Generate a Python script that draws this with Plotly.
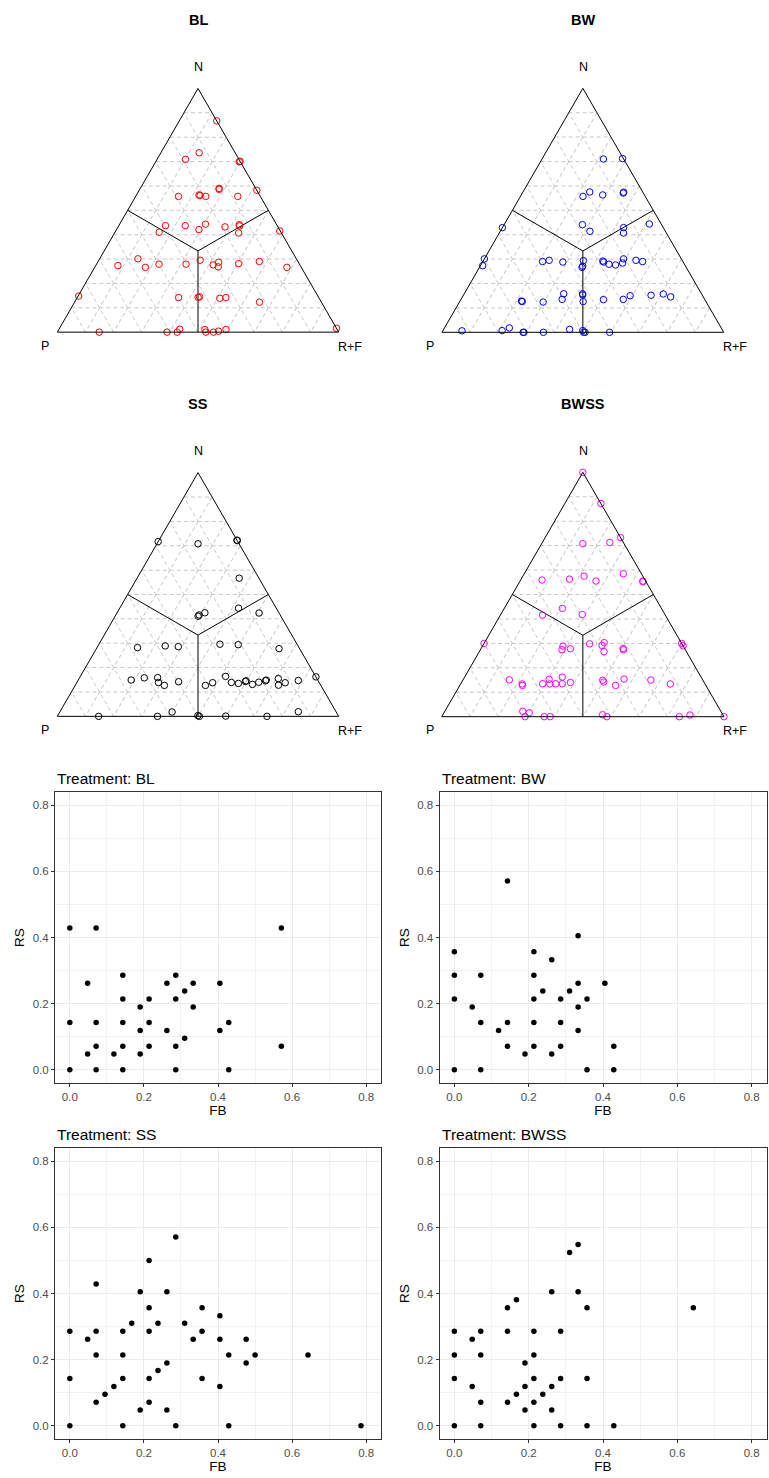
import plotly.graph_objects as go

W, H = 769, 1478

# ---------------- Ternary data (N = top, R+F = bottom-right; P = 1 - N - R+F) -------------
BL_N = [.867, .736, .709, .699, .701, .590, .586, .582, .557, .563, .561, .557, .557,
        .437, .437, .443, .421, .410, .432, .441, .436, .407, .415,
        .301, .273, .266, .279, .279, .295, .276, .287, .268, .281, .290, .266,
        .148, .142, .143, .145, .139, .142, .123,
        .000, .000, .000, .012, .011, .000, .000, .004, .011, .016]
BL_RF = [.133, .136, .101, .297, .299, .280, .282, .418, .152, .222, .227, .249, .363,
         .166, .236, .305, .293, .157, .380, .426, .430, .441, .583,
         .136, .079, .180, .222, .318, .360, .416, .430, .438, .504, .573, .683,
         .002, .360, .429, .433, .508, .528, .657,
         .149, .390, .426, .429, .519, .528, .555, .571, .594, .984]

BW_N = [.710, .712, .575, .557, .563, .574, .571, .441, .414, .429, .407, .444, .429,
        .301, .273, .290, .295, .288, .294, .266, .271, .292, .288, .279, .276, .284, .301, .295, .290,
        .128, .126, .124, .158, .135, .158, .153, .126, .134, .135, .150, .152, .157, .145,
        .006, .007, .018, .000, .000, .000, .012, .007, .000, .000, .000]
BW_RF = [.218, .285, .237, .222, .289, .358, .358, .278, .318, .430, .441, .514, .000,
         .000, .008, .212, .233, .285, .355, .364, .364, .425, .430, .453, .478, .499, .494, .541, .567,
         .218, .222, .297, .353, .359, .420, .423, .438, .506, .576, .593, .666, .707, .739,
         .068, .210, .230, .288, .291, .360, .447, .496, .508, .503, .595]

SS_N = [.717, .708, .723, .721, .567, .444, .424, .411, .416, .425,
        .282, .289, .286, .296, .294, .278,
        .149, .158, .159, .139, .127, .142, .127, .138, .164, .139, .135, .143, .146, .131, .140,
        .146, .149, .155, .128, .138, .147, .162,
        .000, .000, .018, .003, .000, .001, .000, .019]
SS_RF = [.000, .146, .277, .279, .363, .422, .505, .295, .296, .312,
         .144, .239, .287, .430, .496, .649,
         .188, .230, .277, .290, .317, .360, .463, .483, .516, .549, .576, .597, .598, .628, .646,
         .667, .668, .708, .722, .741, .783, .838,
         .147, .356, .399, .498, .505, .598, .745, .847]

BWSS_N = [1.000, .872, .733, .708, .713, .559, .563, .575, .555, .585, .555, .552, .443, .416, .418,
          .300, .289, .274, .278, .298, .292, .303, .266, .279, .274, .300, .290,
          .151, .134, .128, .135, .153, .134, .135, .135, .162, .140, .149, .142, .128, .154, .150, .134,
          .022, .016, .000, .000, .000, .008, .000, .000, .007, .000]
BWSS_RF = [.000, .128, .267, .146, .239, .076, .171, .217, .269, .351, .435, .437, .206, .149, .289,
           .000, .285, .289, .317, .375, .422, .424, .442, .503, .507, .700, .710,
           .164, .218, .222, .290, .304, .316, .336, .360, .346, .386, .496, .503, .552, .569, .666, .743,
           .276, .302, .295, .363, .384, .566, .585, .842, .876, 1.000]

# Region dividers: centroid to the edge midpoints
DIV_A = [0.5, 1 / 3, 0.5, None, 1 / 3, 0.0]
DIV_B = [0.5, 1 / 3, 0.0, None, 1 / 3, 0.5]
DIV_C = [0.0, 1 / 3, 0.5, None, 1 / 3, 0.5]

# ---------------- Scatter data (FB vs RS) ----------------
FB_BL = [0, .071, .571, .143, .286, .048, .262, .333, .405, .310, .143, .214, .286, .190, .333,
         0, .071, .143, .214, .429, .190, .262, .405, .310, .071, .143, .214, .286, .571,
         .048, .119, .190, 0, .071, .143, .286, .429]
RS_BL = [.429, .429, .429, .286, .286, .262, .262, .262, .262, .238, .214, .214, .214, .190, .190,
         .143, .143, .143, .143, .143, .119, .119, .119, .095, .071, .071, .071, .071, .071,
         .048, .048, .048, 0, 0, 0, 0, 0]

FB_BW = [.143, .333, 0, .214, .262, 0, .071, .214, .333, .405, .238, .310, 0, .214, .286, .357,
         .048, .333, .071, .143, .214, .286, .119, .333, .143, .214, .286, .429, .190, .262,
         0, .071, .357, .429]
RS_BW = [.571, .405, .357, .357, .333, .286, .286, .286, .262, .262, .238, .238, .214, .214, .214, .214,
         .190, .190, .143, .143, .143, .143, .119, .119, .071, .071, .071, .071, .048, .048,
         0, 0, 0, 0]

FB_SS = [.286, .214, .071, .190, .262, .214, .357, .405, .167, .238, .310, 0, .071, .143, .214, .357,
         .048, .333, .405, .476, .071, .143, .429, .5, .643, .262, .476, .238, 0, .143, .214, .357,
         .119, .405, .095, .071, .214, .190, .262, 0, .143, .286, .429, .786]
RS_SS = [.571, .5, .429, .405, .405, .357, .357, .333, .310, .310, .310, .286, .286, .286, .286, .286,
         .262, .262, .262, .262, .214, .214, .214, .214, .214, .190, .190, .167, .143, .143, .143, .143,
         .119, .119, .095, .071, .071, .048, .048, 0, 0, 0, 0, 0]

FB_BWSS = [.333, .310, .262, .333, .167, .143, .357, .643, 0, .071, .143, .214, .286, .048,
           0, .071, .214, .190, 0, .214, .286, .357, .048, .190, .262, .167, .238, .071, .143, .214,
           .190, .262, 0, .071, .214, .286, .357, .429]
RS_BWSS = [.548, .524, .405, .405, .381, .357, .357, .357, .286, .286, .286, .286, .286, .262,
           .214, .214, .214, .190, .143, .143, .143, .143, .119, .119, .119, .095, .095, .071, .071, .071,
           .048, .048, 0, 0, 0, 0, 0, 0]

TICKS = [0.0, 0.2, 0.4, 0.6, 0.8]
TICK_TEXT = ["0.0", "0.2", "0.4", "0.6", "0.8"]

FONT = "Liberation Sans, Arial, Helvetica, sans-serif"


def fx(x):
    return x / W


def fy(y):
    return 1 - y / H


fig = go.Figure()

ternaries = [
    ("BL", "ternary", BL_N, BL_RF, "#FF0000"),
    ("BW", "ternary2", BW_N, BW_RF, "#0000FF"),
    ("SS", "ternary3", SS_N, SS_RF, "#000000"),
    ("BWSS", "ternary4", BWSS_N, BWSS_RF, "#FF00FF"),
]
for name, sub, n, rf, col in ternaries:
    p = [abs(round(1 - a - c, 3)) for a, c in zip(n, rf)]
    fig.add_trace(go.Scatterternary(a=DIV_A, b=DIV_B, c=DIV_C, mode="lines", subplot=sub,
                                    line=dict(color="black", width=1), hoverinfo="skip",
                                    showlegend=False))
    fig.add_trace(go.Scatterternary(a=n, b=p, c=rf, mode="markers", subplot=sub, cliponaxis=False,
                                    name=name,
                                    marker=dict(symbol="circle-open", size=6.5, color=col,
                                                line=dict(width=1, color=col)),
                                    showlegend=False))

scatters = [
    ("BL", FB_BL, RS_BL, "x", "y"),
    ("BW", FB_BW, RS_BW, "x2", "y2"),
    ("SS", FB_SS, RS_SS, "x3", "y3"),
    ("BWSS", FB_BWSS, RS_BWSS, "x4", "y4"),
]
for name, fb, rs, xa, ya in scatters:
    fig.add_trace(go.Scatter(x=fb, y=rs, mode="markers", xaxis=xa, yaxis=ya, name=name,
                             marker=dict(color="black", size=5.5), showlegend=False))

# ---------------- Layout ----------------
tern_axis = dict(title=dict(text=""), showticklabels=False, ticks="", linecolor="black", linewidth=1,
                 showline=True, showgrid=True, gridcolor="#C8C8C8", griddash="4px,3px", gridwidth=0.7,
                 tickmode="linear", tick0=0, dtick=0.1)

tern_boxes = {  # pixel boxes of the triangles: (left, right, top, bottom)
    "ternary": (57.3, 338.7, 88.3, 332.3),
    "ternary2": (441.7, 724.0, 88.3, 332.3),
    "ternary3": (57.3, 338.7, 472.3, 716.7),
    "ternary4": (441.7, 724.0, 472.3, 716.7),
}
layout = dict(width=W, height=H, margin=dict(l=0, r=0, t=0, b=0), paper_bgcolor="white",
              plot_bgcolor="white", showlegend=False, font=dict(family=FONT, color="black"))
for key, (l, r, t, b) in tern_boxes.items():
    layout[key] = dict(domain=dict(x=[fx(l), fx(r)], y=[fy(b), fy(t)]), sum=1, bgcolor="white",
                       aaxis=tern_axis, baxis=tern_axis, caxis=tern_axis)

panel_boxes = {  # (left, right, top, bottom) in px
    "1": (55, 381, 792, 1083),
    "2": (439.5, 766.5, 792, 1083),
    "3": (55, 381, 1148, 1439),
    "4": (439.5, 766.5, 1148, 1439),
}
for k, (l, r, t, b) in panel_boxes.items():
    xk = "xaxis" if k == "1" else "xaxis" + k
    yk = "yaxis" if k == "1" else "yaxis" + k
    xid = "x" if k == "1" else "x" + k
    yid = "y" if k == "1" else "y" + k
    common = dict(range=[-0.04, 0.84], tickvals=TICKS, ticktext=TICK_TEXT, showline=True, mirror=True,
                  linecolor="#333333", linewidth=1, ticks="outside", ticklen=3, tickcolor="#333333",
                  tickfont=dict(size=11.5, color="#4D4D4D", family=FONT), showgrid=True,
                  gridcolor="#EBEBEB", gridwidth=1, zeroline=False, fixedrange=True,
                  minor=dict(tickvals=[0.1, 0.3, 0.5, 0.7], showgrid=True, gridcolor="#F2F2F2",
                             gridwidth=0.6, ticks=""))
    layout[xk] = dict(common, domain=[fx(l), fx(r)], anchor=yid,
                      title=dict(text="FB", font=dict(size=13.5, color="black"), standoff=2))
    layout[yk] = dict(common, domain=[fy(b), fy(t)], anchor=xid,
                      title=dict(text="RS", font=dict(size=13.5, color="black"), standoff=4))

annotations = []
for (title, cx, ty) in [("BL", 198, 20), ("BW", 583, 20), ("SS", 198, 404), ("BWSS", 583, 404)]:
    annotations.append(dict(text="<b>%s</b>" % title, x=fx(cx), y=fy(ty), xref="paper", yref="paper",
                            showarrow=False, xanchor="center", yanchor="middle",
                            font=dict(size=14.5, color="black", family=FONT)))
for (cx, base_x, top_y, base_y) in [(198, 0, 67, 346), (583, 385, 67, 346),
                                     (198, 0, 451, 730), (583, 385, 451, 730)]:
    annotations.append(dict(text="N", x=fx(cx), y=fy(top_y), xref="paper", yref="paper", showarrow=False,
                            xanchor="center", yanchor="middle", font=dict(size=12.5, color="black")))
    annotations.append(dict(text="P", x=fx(base_x + 45), y=fy(base_y), xref="paper", yref="paper",
                            showarrow=False, xanchor="center", yanchor="middle",
                            font=dict(size=12.5, color="black")))
    annotations.append(dict(text="R+F", x=fx(base_x + 350), y=fy(base_y + 1), xref="paper", yref="paper",
                            showarrow=False, xanchor="center", yanchor="middle",
                            font=dict(size=12.5, color="black")))
for (title, lx, ty) in [("Treatment: BL", 55, 778), ("Treatment: BW", 439.5, 778),
                        ("Treatment: SS", 55, 1134), ("Treatment: BWSS", 439.5, 1134)]:
    annotations.append(dict(text=title, x=fx(lx), y=fy(ty), xref="paper", yref="paper", showarrow=False,
                            xanchor="left", yanchor="middle", font=dict(size=15.5, color="black")))
layout["annotations"] = annotations

fig.update_layout(**layout)
fig.write_html("out.html", config={"displayModeBar": False},
               post_script="document.body.style.margin='0px';document.body.style.padding='0px';")
